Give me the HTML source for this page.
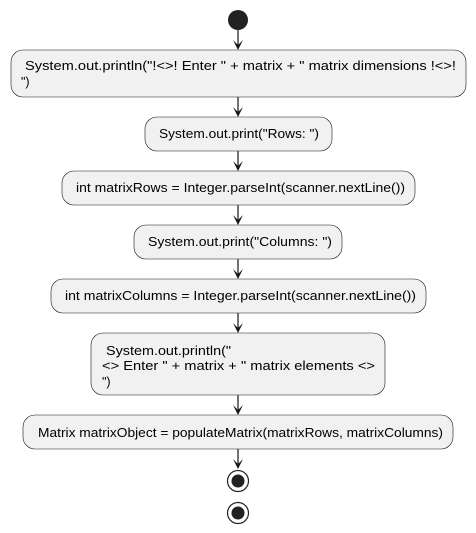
<!DOCTYPE html>
<html><head><style>html,body{margin:0;padding:0;background:#fff;}svg{display:block}</style></head>
<body>
<svg width="476" height="533" xmlns="http://www.w3.org/2000/svg" font-family="Liberation Sans, sans-serif" font-size="12.5" fill="#000">
<circle cx="238" cy="20" r="10" fill="#222"/>
<g fill="#F1F1F1" stroke="#181818" stroke-width="0.6">
<rect x="11" y="50" width="455" height="47" rx="12"/>
<rect x="145" y="117" width="187" height="34" rx="12"/>
<rect x="62" y="171" width="353" height="34" rx="12"/>
<rect x="134" y="225" width="208" height="34" rx="12"/>
<rect x="51" y="279" width="375" height="34" rx="12"/>
<rect x="91" y="333" width="294" height="62" rx="12"/>
<rect x="23" y="415" width="430" height="34" rx="12"/>
</g>
<g stroke="#181818" stroke-width="1.2">
<line x1="238" y1="30" x2="238" y2="48"/>
<line x1="238" y1="97" x2="238" y2="115"/>
<line x1="238" y1="151" x2="238" y2="169"/>
<line x1="238" y1="205" x2="238" y2="223"/>
<line x1="238" y1="259" x2="238" y2="277"/>
<line x1="238" y1="313" x2="238" y2="331"/>
<line x1="238" y1="395" x2="238" y2="413"/>
<line x1="238" y1="449" x2="238" y2="467"/>
</g>
<g fill="#181818">
<polygon points="233,40 238,50 243,40 238,45"/>
<polygon points="233,107 238,117 243,107 238,112"/>
<polygon points="233,161 238,171 243,161 238,166"/>
<polygon points="233,215 238,225 243,215 238,220"/>
<polygon points="233,269 238,279 243,269 238,274"/>
<polygon points="233,323 238,333 243,323 238,328"/>
<polygon points="233,405 238,415 243,405 238,410"/>
<polygon points="233,459 238,469 243,459 238,464"/>
</g>
<circle cx="238" cy="481" r="10.5" fill="none" stroke="#222" stroke-width="1.2"/>
<circle cx="238" cy="481" r="6.5" fill="#222"/>
<circle cx="238" cy="513" r="10.5" fill="none" stroke="#222" stroke-width="1.2"/>
<circle cx="238" cy="513" r="6.5" fill="#222"/>
<text x="25" y="70" textLength="431" lengthAdjust="spacingAndGlyphs">System.out.println("!&lt;&gt;! Enter " + matrix + " matrix dimensions !&lt;&gt;!</text>
<text x="21" y="86">")</text>
<text x="159" y="138" textLength="160" lengthAdjust="spacingAndGlyphs">System.out.print("Rows: ")</text>
<text x="76" y="192" textLength="329" lengthAdjust="spacingAndGlyphs">int matrixRows = Integer.parseInt(scanner.nextLine())</text>
<text x="148" y="246" textLength="184" lengthAdjust="spacingAndGlyphs">System.out.print("Columns: ")</text>
<text x="65" y="300" textLength="351" lengthAdjust="spacingAndGlyphs">int matrixColumns = Integer.parseInt(scanner.nextLine())</text>
<text x="106" y="355" textLength="125" lengthAdjust="spacingAndGlyphs">System.out.println("</text>
<text x="102" y="370" textLength="273" lengthAdjust="spacingAndGlyphs">&lt;&gt; Enter " + matrix + " matrix elements &lt;&gt;</text>
<text x="102" y="386">")</text>
<text x="38" y="437" textLength="405" lengthAdjust="spacingAndGlyphs">Matrix matrixObject = populateMatrix(matrixRows, matrixColumns)</text>
</svg>
</body></html>
